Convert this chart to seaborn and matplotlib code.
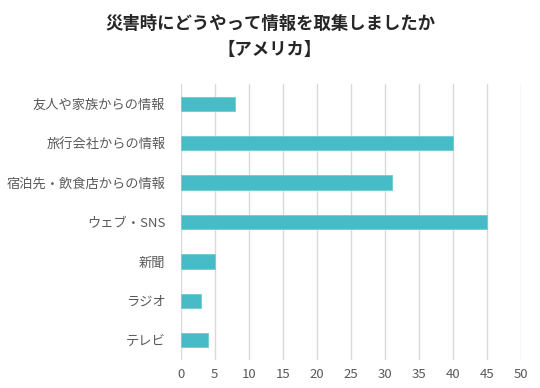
import matplotlib
matplotlib.use("Agg")
import matplotlib.pyplot as plt
import seaborn as sns
import pandas as pd

# data
categories = ['友人や家族からの情報', '旅行会社からの情報', '宿泊先・飲食店からの情報',
              'ウェブ・SNS', '新聞', 'ラジオ', 'テレビ']
values = [8, 40, 31, 45, 5, 3, 4]
x_ticks = [0, 5, 10, 15, 20, 25, 30, 35, 40, 45, 50]

title = '災害時にどうやって情報を取集しましたか\n【アメリカ】'

sns.set_theme(style="white")
plt.rcParams['font.family'] = ['Noto Sans CJK JP', 'DejaVu Sans']

df = pd.DataFrame({'category': categories, 'value': values})

fig = plt.figure(figsize=(5.4, 3.88), dpi=100)
ax = fig.add_axes([180.7 / 540, 28 / 388, (521 - 180.7) / 540, (360 - 84) / 388])

sns.barplot(data=df, x='value', y='category', color='#47BCC6', width=0.36,
            saturation=1, edgecolor='#6ccdd4', linewidth=0.6, ax=ax, zorder=3)

ax.set_xlim(0, 50)
ax.set_ylim(6.5, -0.5)
ax.set_xticks(x_ticks)
ax.set_xticklabels([str(t) for t in x_ticks])
ax.xaxis.grid(True, color='#d9d9d9', linewidth=1)
ax.set_axisbelow(True)
for s in ax.spines.values():
    s.set_visible(False)
ax.set_xlabel('')
ax.set_ylabel('')
ax.tick_params(axis='both', length=0, colors='#595959', labelsize=9.5)
ax.tick_params(axis='x', pad=6)
ax.tick_params(axis='y', pad=11)

fig.text(0.5, 1 - 24 / 388, '災害時にどうやって情報を取集しましたか', ha='center', va='center',
         fontsize=12.5, fontweight='bold', color='#262626')
fig.text(0.5, 1 - 50 / 388, '【アメリカ】', ha='center', va='center',
         fontsize=12.5, fontweight='bold', color='#262626')

fig.savefig('out.png', dpi=100)
